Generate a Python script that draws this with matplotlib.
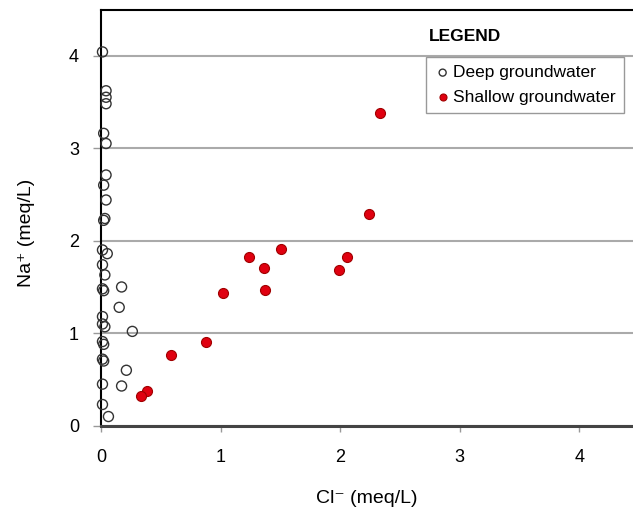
import matplotlib.pyplot as plt

plt.rcParams['font.family'] = ['Liberation Sans', 'DejaVu Sans']

# Deep groundwater (open circles)
deep_cl = [0.01, 0.04, 0.04, 0.04, 0.02, 0.04, 0.04, 0.02, 0.04, 0.03,
           0.02, 0.01, 0.05, 0.01, 0.03, 0.01, 0.02, 0.17, 0.15, 0.01,
           0.01, 0.03, 0.26, 0.01, 0.02, 0.01, 0.02, 0.21, 0.01, 0.17,
           0.01, 0.06]
deep_na = [4.04, 3.62, 3.55, 3.48, 3.16, 3.05, 2.71, 2.60, 2.44, 2.24,
           2.22, 1.90, 1.86, 1.74, 1.63, 1.48, 1.46, 1.50, 1.28, 1.18,
           1.10, 1.07, 1.02, 0.91, 0.88, 0.72, 0.70, 0.60, 0.45, 0.43,
           0.23, 0.10]

# Shallow groundwater (red dots)
shallow_cl = [2.33, 2.24, 1.24, 1.50, 1.36, 1.37, 1.02, 2.06, 1.99, 0.88,
              0.58, 0.38, 0.33]
shallow_na = [3.38, 2.29, 1.82, 1.91, 1.70, 1.47, 1.43, 1.82, 1.68, 0.91,
              0.77, 0.38, 0.32]

ticks = [0, 1, 2, 3, 4]

fig = plt.figure(figsize=(6.33, 5.13), dpi=100)
ax = fig.add_axes([0.16, 0.17, 0.84, 0.81])

ax.scatter(deep_cl, deep_na, s=52, facecolors='none', edgecolors='#333333',
           linewidths=1.0, label='Deep groundwater', zorder=3, clip_on=False)
ax.scatter(shallow_cl, shallow_na, s=52, facecolors='#e00010', edgecolors='#a00000',
           linewidths=0.8, label='Shallow groundwater', zorder=3)

ax.set_xlim(0, 4.45)
ax.set_ylim(0, 4.49)
ax.set_xticks(ticks)
ax.set_yticks(ticks)
ax.tick_params(labelsize=13, colors='#999999', labelcolor='black', length=6, width=1)
ax.tick_params(axis='y', pad=10)
ax.tick_params(axis='x', pad=13, length=4)
ax.yaxis.grid(True, color='#aaaaaa', linewidth=1.5)
ax.set_axisbelow(True)

ax.spines['right'].set_visible(False)
ax.spines['top'].set_linewidth(1.5)
ax.spines['left'].set_linewidth(1.5)
ax.spines['bottom'].set_linewidth(2.2)
ax.spines['bottom'].set_color('#444444')

ax.set_xlabel('Cl⁻ (meq/L)', fontsize=14, labelpad=17)
ax.set_ylabel('Na⁺ (meq/L)', fontsize=14)
ax.yaxis.set_label_coords(-0.124, 0.465)

fig.text(0.678, 0.928, 'LEGEND', fontsize=12.5, fontweight='bold', va='center')
leg = ax.legend(loc='upper left', bbox_to_anchor=(0.611, 0.887), fontsize=12.5,
                handletextpad=0.1, handlelength=1.0, markerscale=0.7,
                borderpad=0.45, labelspacing=0.55, borderaxespad=0,
                fancybox=False, edgecolor='#999999', framealpha=1)
leg.get_frame().set_linewidth(1.0)

fig.savefig('out.png', dpi=100)
